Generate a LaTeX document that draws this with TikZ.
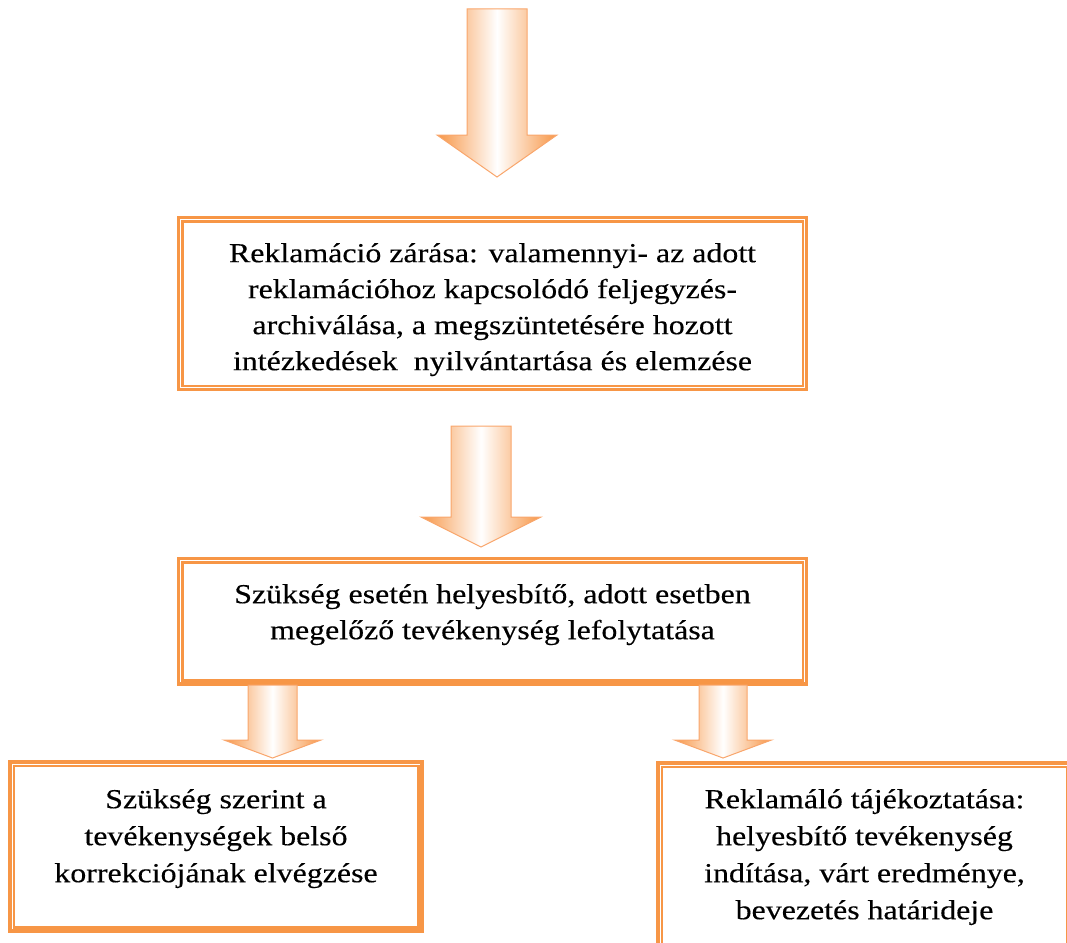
\documentclass[tikz,border=0pt]{standalone}
\usepackage{fontspec}
\setmainfont{Liberation Serif}[FakeStretch=1.16,FakeBold=0.3]
\usetikzlibrary{calc}
\definecolor{boxor}{HTML}{F79646}
\definecolor{arrowor}{HTML}{F79646}
\definecolor{arrowline}{HTML}{F9A66C}
\tikzset{
  outerbox/.style={draw=boxor, line width=3.5pt, inner sep=0pt},
  innerline/.style={draw=boxor, line width=2.5pt},
  boxtext/.style={anchor=north, inner sep=0pt, align=center, text=black},
  txta/.style={font={\fontsize{27.5}{36}\selectfont}},
  txtb/.style={font={\fontsize{27.5}{37}\selectfont}},
  blockarrow/.style={left color=arrowor, right color=arrowor, middle color=white,
    draw=arrowline, line width=1pt, line join=miter},
}
\newcommand\firstline{\rule{0pt}{25pt}}
% #1 centre x, #2 top y, #3 head y, #4 tip y, #5 half shaft, #6 half head
\newcommand\blockarr[6]{%
  \shade[blockarrow] (#1-#5,#2) -- (#1+#5,#2) -- (#1+#5,#3) -- (#1+#6,#3)
    -- (#1,#4) -- (#1-#6,#3) -- (#1-#5,#3) -- cycle;}
\newcommand\innerframe[1]{%
  \draw[innerline] ($(#1.north west)+(5.5,5.5)$) rectangle ($(#1.south east)+(-5.5,-5.5)$);}
\begin{document}
\begin{tikzpicture}[x=1pt,y=-1pt]
\useasboundingbox (0,0) rectangle (1067,942);
\clip (0,0) rectangle (1067,942);

% boxes
\node[outerbox, minimum width=628pt, minimum height=172pt] (b1) at (492.5,303.5) {};
\innerframe{b1}
\node[outerbox, minimum width=628pt, minimum height=125.5pt] (b2) at (492.5,621.25) {};
\innerframe{b2}
\node[outerbox, minimum width=412pt, minimum height=169pt] (b3) at (216,846.5) {};
\innerframe{b3}
\node[outerbox, minimum width=413pt, minimum height=187pt] (b4) at (864.5,856.5) {};
\innerframe{b4}

% texts
\node[boxtext, txta] (t1) at (492.5,237) {\firstline Reklamáció zárása: valamennyi- az adott\\
  reklamációhoz kapcsolódó feljegyzés-\\
  archiválása, a megszüntetésére hozott\\
  intézkedések\ \ nyilvántartása és elemzése};
\node[boxtext, txta] (t2) at (492.5,578) {\firstline Szükség esetén helyesbítő, adott esetben\\
  megelőző tevékenység lefolytatása};
\node[boxtext, txtb] (t3) at (216,783) {\firstline Szükség szerint a\\
  tevékenységek belső\\
  korrekciójának elvégzése};
\node[boxtext, txtb] (t4) at (864.5,783) {\firstline Reklamáló tájékoztatása:\\
  helyesbítő tevékenység\\
  indítása, várt eredménye,\\
  bevezetés határideje};

% block arrows
\blockarr{497}{9}{135}{177}{30}{60}
\blockarr{481}{426}{517}{547}{30}{60}
\blockarr{272.5}{685}{740}{758}{24.5}{48.5}
\blockarr{723}{685}{740}{758}{24}{48.5}
\end{tikzpicture}
\end{document}
